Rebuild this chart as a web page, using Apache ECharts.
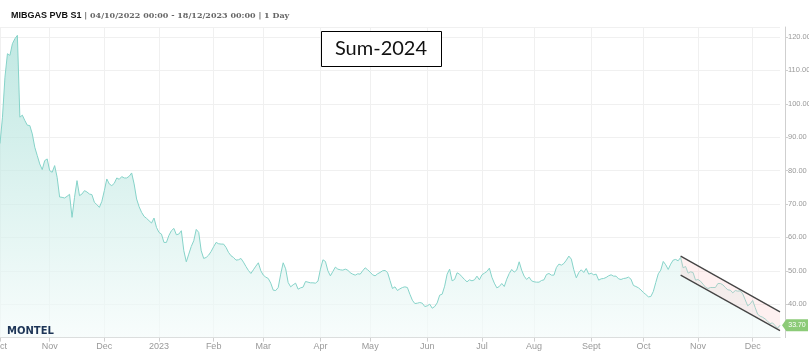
<!DOCTYPE html>
<html>
<head>
<meta charset="utf-8">
<script src="https://cdn.jsdelivr.net/npm/echarts@6/dist/echarts.min.js"></script>
<style>
  html, body { margin: 0; padding: 0; background: #fff; }
  #main { width: 809px; height: 355px; }
</style>
</head>
<body>
<div id="main"></div>
<script>
// daily (weekday) settlement prices, 04/10/2022 .. 18/12/2023
const firstDay = "2022-10-04";
const lastDay = "2023-12-18";
const prices = [
  88.1, 96, 108, 115, 114.5, 118, 119.5, 120.5, 96, 96.6,
  95, 93.6, 93.5, 91, 87, 84.5, 82, 80.3, 83, 83.5,
  80, 79.5, 81.5, 78, 72.1, 72, 71.8, 72.3, 72.9, 66,
  72, 77, 72.5, 73, 74, 73.6, 73, 72.8, 70.5, 69.8,
  69, 70.8, 74, 77.5, 76, 75.5, 76.2, 77.8, 77.4, 78.2,
  77.8, 77.8, 78.3, 79.3, 76, 71.5, 69.2, 67.5, 66.3, 65.7,
  65, 64.3, 65.8, 63, 61.5, 61, 58.5, 58.5, 60.6, 62,
  62.7, 60.8, 61, 62, 56, 52.7, 55, 57.3, 59, 62.4,
  61.5, 56, 53.7, 54, 54.7, 55.8, 57.2, 58.5, 58.1, 58,
  58, 57, 55.5, 54.5, 54, 53.2, 53.3, 53.7, 52.6, 51.3,
  50.1, 49.2, 50.3, 51.4, 52.4, 50, 48.7, 48.1, 47.7, 46.3,
  44.2, 44.1, 45, 49, 52.4, 50.6, 46.5, 45.2, 45.8, 46.3,
  44.5, 44.9, 45.1, 46.8, 46.6, 46.4, 46.4, 46.3, 46.9, 50.5,
  53.3, 52.8, 50, 48.5, 49.8, 51.1, 50.5, 50.3, 50.2, 50.5,
  50.2, 49.4, 49, 48.7, 49.1, 49, 50, 50.9, 50.3, 49.6,
  48.8, 48.5, 49.1, 49.5, 50, 50.1, 49.5, 47.1, 44.7, 45.2,
  44.1, 44.6, 45, 45.2, 45, 43, 41.2, 40.2, 40.3, 40.5,
  40.3, 39.3, 39.5, 40, 38.8, 39.3, 40.4, 42.7, 43, 45.4,
  49, 50.5, 47, 47.4, 49.4, 49, 48.2, 47.4, 46.7, 47.3,
  47, 47.3, 48.4, 47.3, 48.8, 49.3, 49.8, 50.8, 48.1, 46.3,
  44.9, 45.3, 46.2, 45.3, 47.5, 49.2, 50.4, 49.6, 50.2, 52.7,
  50.2, 48.4, 47.4, 48.1, 47, 46.7, 46.6, 46.6, 47.1, 47.3,
  48.9, 49.2, 48.7, 48.7, 51, 52, 51.7, 52.2, 53.2, 54.4,
  53.5, 50.3, 47.9, 49.5, 50.3, 49.5, 50.7, 49, 49.3, 48.8,
  49, 47.2, 47.6, 47.7, 48, 48.5, 48.8, 48.4, 48.4, 47.6,
  47.4, 47.7, 47.8, 48.1, 47.5, 45.6, 45.3, 44.9, 44.3, 43.5,
  42.9, 42.2, 42.3, 43.8, 46.5, 49.1, 50.2, 52.8, 51.8, 50.4,
  52, 53.2, 53.4, 53, 54, 50.9, 51.3, 49.3, 49.7, 49.5,
  47.2, 47.4, 46.9, 46, 45.1, 44.7, 45, 45, 45, 46.2,
  46.2, 45.8, 45, 44.3, 44.2, 43.4, 44.1, 43.9, 44, 43.1,
  41.3, 39.5, 40.1, 41.1, 39, 37, 36.4, 36.1, 35.6, 34.9,
  34.2, 34.4, 33.6, 32.8, 33.7
];
const monthNames = ["Jan", "Feb", "Mar", "Apr", "May", "Jun", "Jul", "Aug", "Sept", "Oct", "Nov", "Dec"];
const yTicks = [40, 50, 60, 70, 80, 90, 100, 110, 120];

// drawn trend channel
const channelDates = ["2023-10-23", "2023-12-18"];
const channelUpper = [54.4, 37.7];
const channelLower = [48.7, 32.1];

const lastPrice = 33.7;

// weekday categories
const dates = [];
{
  const d = new Date(firstDay + "T00:00:00Z");
  const end = new Date(lastDay + "T00:00:00Z");
  while (d <= end) {
    const wd = d.getUTCDay();
    if (wd !== 0 && wd !== 6) dates.push(d.toISOString().slice(0, 10));
    d.setUTCDate(d.getUTCDate() + 1);
  }
}

function isMonthStart(idx) {
  if (idx === 0) return true;
  return dates[idx].slice(5, 7) !== dates[idx - 1].slice(5, 7);
}

const chartDom = document.getElementById("main");
const myChart = echarts.init(chartDom);

const option = {
  animation: false,
  title: {
    left: 6,
    top: 6,
    text: "{a|MIBGAS PVB S1}{b| | 04/10/2022 00:00 - 18/12/2023 00:00 | 1 Day}",
    textStyle: {
      rich: {
        a: { fontFamily: "Liberation Sans", fontWeight: "bold", fontSize: 9, color: "#111" },
        b: { fontFamily: "DejaVu Serif", fontSize: 8, color: "#666" }
      }
    }
  },
  grid: {
    left: 0,
    top: 27,
    width: 780,
    bottom: 17.4,
    containLabel: false,
    outerBoundsMode: "none"
  },
  xAxis: {
    type: "category",
    data: dates,
    boundaryGap: false,
    axisLine: { lineStyle: { color: "#cfcfcf" } },
    axisTick: {
      interval: (idx) => isMonthStart(idx),
      length: 4,
      lineStyle: { color: "#cfcfcf" }
    },
    splitLine: {
      show: true,
      interval: (idx) => isMonthStart(idx),
      lineStyle: { color: "#f0f0f0" }
    },
    axisLabel: {
      interval: (idx) => isMonthStart(idx),
      margin: 4,
      fontSize: 9,
      color: "#999",
      fontFamily: "Liberation Sans",
      hideOverlap: false,
      formatter: function (val) {
        const m = parseInt(val.slice(5, 7), 10) - 1;
        return m === 0 ? val.slice(0, 4) : monthNames[m];
      }
    }
  },
  yAxis: {
    type: "value",
    position: "right",
    min: 30,
    max: 123,
    interval: 10,
    offset: 5,
    axisLine: { show: true, lineStyle: { color: "#cfcfcf" } },
    axisTick: { show: true, length: 3, lineStyle: { color: "#cfcfcf" } },
    splitLine: { lineStyle: { color: "#f0f0f0" } },
    axisLabel: {
      showMinLabel: false,
      showMaxLabel: false,
      margin: 3,
      fontSize: 7.5,
      color: "#999",
      fontFamily: "Liberation Sans",
      formatter: (v) => (yTicks.indexOf(v) >= 0 ? v.toFixed(2) : "")
    }
  },
  series: [
    {
      name: "MIBGAS PVB S1",
      type: "line",
      data: prices,
      symbol: "none",
      lineStyle: { color: "#86d3c9", width: 1 },
      areaStyle: {
        color: new echarts.graphic.LinearGradient(0, 0, 0, 1, [
          { offset: 0, color: "#a6ded6" },
          { offset: 1, color: "#f4fbfa" }
        ])
      },
      markPoint: {
        symbol: "path://M0,6 L5,0 L30,0 L30,12 L5,12 Z",
        symbolSize: [26, 12],
        symbolOffset: [15, 0],
        silent: true,
        itemStyle: { color: "#8ccb78" },
        label: {
          show: true,
          color: "#fff",
          fontSize: 7,
          fontFamily: "Liberation Sans",
          offset: [2, 0],
          formatter: () => lastPrice.toFixed(2)
        },
        data: [{ coord: [dates.length - 1, lastPrice] }]
      }
    },
    {
      name: "channel",
      type: "custom",
      data: [[dates.indexOf(channelDates[0]), channelUpper[0]]],
      silent: true,
      z: 5,
      renderItem: function (params, api) {
        const i0 = dates.indexOf(channelDates[0]);
        const i1 = dates.indexOf(channelDates[1]);
        const u0 = api.coord([i0, channelUpper[0]]);
        const u1 = api.coord([i1, channelUpper[1]]);
        const l0 = api.coord([i0, channelLower[0]]);
        const l1 = api.coord([i1, channelLower[1]]);
        return {
          type: "group",
          children: [
            {
              type: "polygon",
              shape: { points: [u0, u1, l1, l0] },
              style: { fill: "rgba(250,200,200,0.28)" }
            },
            {
              type: "line",
              shape: { x1: u0[0], y1: u0[1], x2: u1[0], y2: u1[1] },
              style: { stroke: "#444", lineWidth: 1.3 }
            },
            {
              type: "line",
              shape: { x1: l0[0], y1: l0[1], x2: l1[0], y2: l1[1] },
              style: { stroke: "#444", lineWidth: 1.3 }
            }
          ]
        };
      }
    }
  ],
  graphic: [
    {
      type: "rect",
      z: 100,
      shape: { x: 321.5, y: 31.5, width: 120, height: 35 },
      style: { fill: "#fff", stroke: "#000", lineWidth: 1 }
    },
    {
      type: "text",
      z: 101,
      x: 381,
      y: 49,
      style: {
        text: "Sum-2024",
        fontFamily: "Lato",
        fontSize: 20,
        fill: "#111",
        align: "center",
        verticalAlign: "middle"
      }
    },
    {
      type: "text",
      z: 100,
      x: 7,
      y: 326,
      style: {
        text: "MONTEL",
        fontFamily: "DejaVu Sans",
        fontWeight: "bold",
        fontSize: 10,
        fill: "#1d3557"
      }
    }
  ]
};

myChart.setOption(option);
</script>
</body>
</html>
